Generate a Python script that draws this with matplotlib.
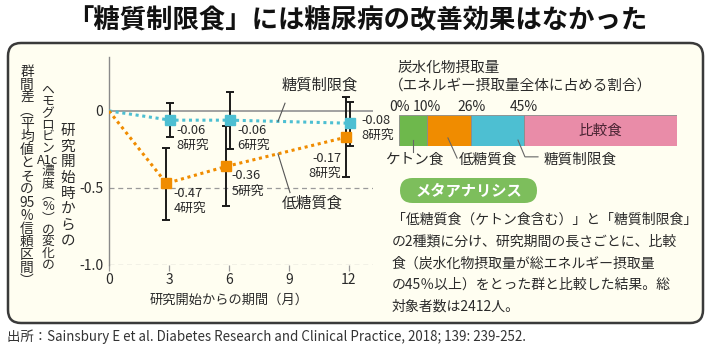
import numpy as np
import matplotlib
matplotlib.use("Agg")
import matplotlib.pyplot as plt
from matplotlib.patches import FancyBboxPatch
import matplotlib.transforms as mtrans

plt.rcParams['font.family'] = ['Noto Sans CJK JP', 'DejaVu Sans']
plt.rcParams['axes.unicode_minus'] = False

# ---------------- data ----------------
baseline_month = 0
baseline_value = 0.0
months = [3, 6, 12]

restrict_name = "糖質制限食"
restrict_mean = [-0.06, -0.06, -0.08]
restrict_lo = [-0.17, -0.25, -0.23]
restrict_hi = [0.05, 0.12, 0.06]
restrict_n = [8, 6, 8]

low_name = "低糖質食"
low_mean = [-0.47, -0.36, -0.17]
low_lo = [-0.71, -0.62, -0.43]
low_hi = [-0.24, -0.10, 0.09]
low_n = [4, 5, 8]

xtick_vals = [0, 3, 6, 9, 12]
ytick_vals = [0, -0.5, -1.0]
ytick_labels = ["0", "-0.5", "-1.0"]

carb_cats = ["ケトン食", "低糖質食", "糖質制限食", "比較食"]
carb_bounds = [0, 10, 26, 45, 100]
carb_tick_labels = ["0%", "10%", "26%", "45%"]

title = "「糖質制限食」には糖尿病の改善効果はなかった"
source = "出所：Sainsbury E et al. Diabetes Research and Clinical Practice, 2018; 139: 239-252."
para_lines = [
    "「低糖質食（ケトン食含む）」と「糖質制限食」",
    "の2種類に分け、研究期間の長さごとに、比較",
    "食（炭水化物摂取量が総エネルギー摂取量",
    "の45％以上）をとった群と比較した結果。総",
    "対象者数は2412人。",
]
ylab_col1 = ["群", "間", "差", "︵", "平", "均", "値", "と", "そ", "の", "95", "%", "信", "頼", "区", "間", "︶"]
ylab_col2 = ["ヘ", "モ", "グ", "ロ", "ビ", "ン", "A1c", "濃", "度", "︵", "%", "︶", "の", "変", "化", "の"]
ylab_col3 = ["研", "究", "開", "始", "時", "か", "ら", "の"]

# ---------------- style ----------------
C_CYAN = "#4DBFD2"
C_ORANGE = "#F08C00"
C_GREEN = "#6EB84C"
C_PINK = "#E98CA8"
C_PILL = "#7DBE5C"
C_TEXT = "#2a2a2a"
C_GRID = "#9a9a9a"
W, H = 710, 347

fig = plt.figure(figsize=(W / 100, H / 100), dpi=100)
fig.patch.set_facecolor("white")

# background axes in pixel coordinates (y downward)
bg = fig.add_axes([0, 0, 1, 1], zorder=0)
bg.set_xlim(0, W)
bg.set_ylim(H, 0)
bg.axis("off")

box = FancyBboxPatch((8, 43), 695, 280, boxstyle="round,pad=0,rounding_size=13",
                     facecolor="#FFFEF1", edgecolor="#3a3a3a", linewidth=1.8)
bg.add_patch(box)

bg.text(357, 21, title, ha="center", va="center", fontsize=19, fontweight="bold", color="#111111")
bg.text(7, 337, source, ha="left", va="center", fontsize=9.6, color="#333333")


def vtext(x, y_first, y_last, tokens, fs):
    """Vertical (top-to-bottom) column: one character per cell."""
    n = len(tokens)
    step = (y_last - y_first) / (n - 1)
    for i, t in enumerate(tokens):
        bg.text(x, y_first + i * step, t, ha="center", va="center", fontsize=fs, color=C_TEXT)


vtext(27, 72, 281, ylab_col1, 9.9)
vtext(48, 90, 265, ylab_col2, 9.2)
vtext(68, 131, 241, ylab_col3, 10.5)

# ---------------- main chart ----------------
x_left, x_right = 0, 13.2
y_bot, y_top = -1.0, 0.35
ax = fig.add_axes([109 / W, 1 - 265 / H, 264 / W, 208 / H], zorder=2)
ax.patch.set_alpha(0)
ax.set_xlim(x_left, x_right)
ax.set_ylim(y_bot, y_top)
for s in ["top", "right", "bottom"]:
    ax.spines[s].set_visible(False)
ax.spines["left"].set_color("#8a8a8a")
ax.spines["left"].set_linewidth(1.0)

ax.axhline(0, color=C_GRID, lw=1.3, zorder=1)
for yv in ytick_vals[1:]:
    ax.axhline(yv, color=C_GRID, lw=0.9, ls=(0, (4, 3)), zorder=1)

ax.set_xticks(xtick_vals)
ax.set_xticklabels([str(v) for v in xtick_vals])
ax.set_yticks(ytick_vals)
ax.set_yticklabels(ytick_labels)
ax.tick_params(axis="x", length=4, color=C_GRID, width=0.9, pad=2, labelsize=10, labelcolor=C_TEXT)
ax.tick_params(axis="y", length=0, pad=4, labelsize=10, labelcolor=C_TEXT)

ax.text(6, -0.17, "研究開始からの期間（月）", transform=mtrans.blended_transform_factory(ax.transData, ax.transAxes),
        ha="center", va="center", fontsize=9.5, color=C_TEXT)

dx_restrict = 0.07
dx_low = -0.13
xr = np.array(months) + dx_restrict
xl = np.array(months) + dx_low

# lines
ax.plot([baseline_month] + list(xr), [baseline_value] + restrict_mean, ls=(0, (1, 1.2)), lw=2.2,
        color=C_CYAN, zorder=3)
ax.plot([baseline_month] + list(xl), [baseline_value] + low_mean, ls=(0, (1, 1.2)), lw=2.2,
        color=C_ORANGE, zorder=3)

# error bars
for xs, m, lo, hi in [(xr, restrict_mean, restrict_lo, restrict_hi), (xl, low_mean, low_lo, low_hi)]:
    m = np.array(m)
    yerr = np.vstack([m - np.array(lo), np.array(hi) - m])
    ax.errorbar(xs, m, yerr=yerr, fmt="none", ecolor="#1a1a1a", elinewidth=1.4, capsize=3.2,
                capthick=1.4, zorder=4)

ax.plot(xr, restrict_mean, ls="none", marker="s", ms=6.5, color=C_CYAN, zorder=5)
ax.plot(xl, low_mean, ls="none", marker="s", ms=6.5, color=C_ORANGE, zorder=5)

# value labels (offsets in pixels)
r_offsets = [(6, -4, "left"), (7, -4, "left"), (11, 9, "left")]
l_offsets = [(7, -4, "left"), (5, -3, "left"), (-5, -15, "right")]
for xs, ms_, ns, offs in [(xr, restrict_mean, restrict_n, r_offsets), (xl, low_mean, low_n, l_offsets)]:
    for x, m, n, (ox, oy, ha) in zip(xs, ms_, ns, offs):
        ax.annotate(f"{m:.2f}\n{n}研究", (x, m), xytext=(ox, oy), textcoords="offset pixels",
                    ha=ha, va="top", fontsize=9.2, color=C_TEXT, linespacing=1.2,
                    annotation_clip=False, zorder=6)

# series labels with leaders
lead_x = 8.45
yr_lead = np.interp(lead_x, [baseline_month] + list(xr), [baseline_value] + restrict_mean)
yl_lead = np.interp(lead_x, [baseline_month] + list(xl), [baseline_value] + low_mean)
ax.plot([8.8, lead_x], [0.05, yr_lead], color="#555555", lw=0.8, zorder=6)
ax.text(10.55, 0.17, restrict_name, ha="center", va="center", fontsize=11, color=C_TEXT)
ax.plot([lead_x, 9.05], [yl_lead, -0.53], color="#555555", lw=0.8, zorder=6)
ax.text(10.15, -0.60, low_name, ha="center", va="center", fontsize=11, color=C_TEXT)

# ---------------- carb bar ----------------
bg.text(398, 68, "炭水化物摂取量", ha="left", va="center", fontsize=10.5, color=C_TEXT)
bg.text(389, 86, "（エネルギー摂取量全体に占める割合）", ha="left", va="center", fontsize=10.5, color=C_TEXT)

ax2 = fig.add_axes([399 / W, 1 - 146 / H, 278 / W, 31 / H], zorder=2)
ax2.set_xlim(0, 100)
ax2.set_ylim(-0.5, 0.5)
ax2.axis("off")
seg_colors = [C_GREEN, C_ORANGE, C_CYAN, C_PINK]
lefts = carb_bounds[:-1]
widths = np.diff(carb_bounds)
ax2.barh([0] * len(carb_cats), widths, left=lefts, height=1.0, color=seg_colors,
         edgecolor="#8a8a8a", linewidth=0.6)
tr2 = mtrans.blended_transform_factory(ax2.transData, ax2.transAxes)
for b, lab in zip(carb_bounds[:-1], carb_tick_labels):
    ax2.text(b, 1.25, lab, transform=tr2, ha="center", va="center", fontsize=10, color=C_TEXT)
ax2.text((carb_bounds[3] + carb_bounds[4]) / 2, 0, carb_cats[3], ha="center", va="center",
         fontsize=10.5, color="#4a2433")

lc = "#666666"
ax2.plot([5, 5], [0.19, -0.19], transform=tr2, color=lc, lw=0.8, clip_on=False)
ax2.plot([17.6, 20.9], [0.26, -0.39], transform=tr2, color=lc, lw=0.8, clip_on=False)
ax2.plot([42.8, 45.3, 50.0], [0.19, -0.35, -0.35], transform=tr2, color=lc, lw=0.8, clip_on=False)
bg.text(414, 160, carb_cats[0], ha="center", va="center", fontsize=10.5, color=C_TEXT)
bg.text(488, 160, carb_cats[1], ha="center", va="center", fontsize=10.5, color=C_TEXT)
bg.text(580, 160, carb_cats[2], ha="center", va="center", fontsize=10.5, color=C_TEXT)

# ---------------- meta analysis ----------------
pill = FancyBboxPatch((400, 178), 137, 25, boxstyle="round,pad=0,rounding_size=12.5",
                      facecolor=C_PILL, edgecolor="none")
bg.add_patch(pill)
bg.text(468.5, 190.5, "メタアナリシス", ha="center", va="center", fontsize=11, fontweight="bold",
        color="white")
for i, line in enumerate(para_lines):
    bg.text(392, 220 + i * 21.7, line, ha="left", va="center", fontsize=10, color=C_TEXT)

fig.savefig("out.png", dpi=100)
